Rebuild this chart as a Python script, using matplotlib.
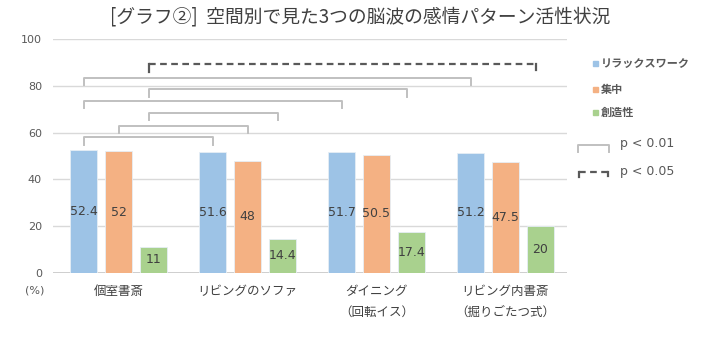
import matplotlib
matplotlib.use("Agg")
import matplotlib.pyplot as plt
from matplotlib.lines import Line2D
import numpy as np

plt.rcParams['font.family'] = ['Noto Sans CJK JP', 'DejaVu Sans']

title = "[グラフ②]  空間別で見た3つの脳波の感情パターン活性状況"
categories = ["個室書斎", "リビングのソファ", "ダイニング\n（回転イス）", "リビング内書斎\n（掘りごたつ式）"]
series_names = ["リラックスワーク", "集中", "創造性"]
relax = [52.4, 51.6, 51.7, 51.2]
focus = [52, 48, 50.5, 47.5]
creative = [11, 14.4, 17.4, 20]
value_labels = [["52.4", "51.6", "51.7", "51.2"], ["52", "48", "50.5", "47.5"], ["11", "14.4", "17.4", "20"]]
yticks = [0, 20, 40, 60, 80, 100]

# significance brackets: (group_a, series_a, group_b, series_b, level, dashed)
brackets = [
    (0, 0, 1, 0, 58.0, False),
    (0, 1, 1, 1, 63.0, False),
    (0, 2, 1, 2, 68.6, False),
    (0, 0, 2, 0, 73.6, False),
    (0, 2, 2, 2, 78.6, False),
    (0, 0, 3, 0, 83.6, False),
    (0, 2, 3, 2, 89.3, True),
]

colors = ["#9DC3E6", "#F4B183", "#A9D18E"]
txt = "#404040"
grid_c = "#D9D9D9"

fig = plt.figure(figsize=(7.2, 3.37), dpi=100)
ax = fig.add_axes([53/720, 1-272.7/337, 514/720, (272.7-39.3)/337])

x = np.arange(len(categories))
off = 35/129
w = 27/129
data = [relax, focus, creative]
for s, vals in enumerate(data):
    xs = x + (s-1)*off
    ax.bar(xs, vals, w, color=colors[s], edgecolor="#E6EEF5", linewidth=0.6, zorder=3)
    for xi, v, lab in zip(xs, vals, value_labels[s]):
        ax.text(xi, v/2, lab, ha='center', va='center', fontsize=9, color=txt, zorder=4,
                family=['DejaVu Sans'])

ax.set_xlim(-0.508, 3.477)
ax.set_ylim(0, 100)
ax.set_yticks(yticks)
ax.set_yticklabels([str(t) for t in yticks], fontsize=8, color="#595959", family=['DejaVu Sans'])
ax.tick_params(axis='y', length=0, pad=8)
ax.tick_params(axis='x', length=0, pad=9)
ax.set_xticks(x)
ax.set_xticklabels(categories, fontsize=9, color=txt, linespacing=1.75)
for sp in ax.spines.values():
    sp.set_visible(False)
ax.yaxis.grid(True, color=grid_c, linewidth=1.0, zorder=0)
ax.set_axisbelow(True)
ax.axhline(0, color="#C8C8C8", linewidth=1.2, zorder=2)

ax.text(-0.035, -0.078, "(%)", transform=ax.transAxes, ha='center', va='center',
        fontsize=8, color="#595959", family=['DejaVu Sans'])

bx_off = [-0.27, 0.0, 0.235]
tick = 3.2
for ga, sa, gb, sb, lvl, dashed in brackets:
    xa = ga + bx_off[sa]
    xb = gb + bx_off[sb]
    if dashed:
        ax.plot([xa, xb], [lvl, lvl], color="#595959",
                linewidth=1.6, linestyle=(0, (3, 2)), clip_on=False, zorder=5)
        ax.plot([xa, xa], [lvl-tick, lvl], color="#595959", linewidth=1.6, clip_on=False, zorder=5)
        ax.plot([xb, xb], [lvl-2.4, lvl], color="#595959", linewidth=1.6, clip_on=False, zorder=5)
    else:
        ax.plot([xa, xa, xb, xb], [lvl-tick, lvl, lvl, lvl-tick], color="#C0C0C0",
                linewidth=1.4, clip_on=False, zorder=5)

fig.text(0.5, 1-17/337, title, ha='center', va='center', fontsize=13.5, color=txt)

# legend
leg_y = [63.5, 89, 112]
for c, name, yy in zip(colors, series_names, leg_y):
    fig.patches.append(matplotlib.patches.Rectangle((593/720, 1-(yy+2.5)/337), 5/720, 5/337,
                                                    color=c, transform=fig.transFigure))
    fig.text(601/720, 1-yy/337, name, ha='left', va='center', fontsize=8, color="#595959",
             fontweight='bold')

# p-value legend
def fpx(px, py):
    return px/720, 1-py/337
xs_, ys_ = zip(*[fpx(578, 152), fpx(578, 144.5), fpx(609, 144.5), fpx(609, 152)])
fig.add_artist(Line2D(xs_, ys_, color="#C0C0C0", linewidth=1.4))
xs_, ys_ = zip(*[fpx(579, 172), fpx(608, 172)])
fig.add_artist(Line2D(xs_, ys_, color="#595959", linewidth=1.6, linestyle=(0, (3, 2))))
xs_, ys_ = zip(*[fpx(579, 177), fpx(579, 172)])
fig.add_artist(Line2D(xs_, ys_, color="#595959", linewidth=1.6))
xs_, ys_ = zip(*[fpx(608, 176), fpx(608, 172)])
fig.add_artist(Line2D(xs_, ys_, color="#595959", linewidth=1.6))
fig.text(620/720, 1-143/337, "p < 0.01", ha='left', va='center', fontsize=9, color="#595959",
         family=['DejaVu Sans'])
fig.text(620/720, 1-172/337, "p < 0.05", ha='left', va='center', fontsize=9, color="#595959",
         family=['DejaVu Sans'])

fig.savefig("out.png", dpi=100, facecolor="white")
